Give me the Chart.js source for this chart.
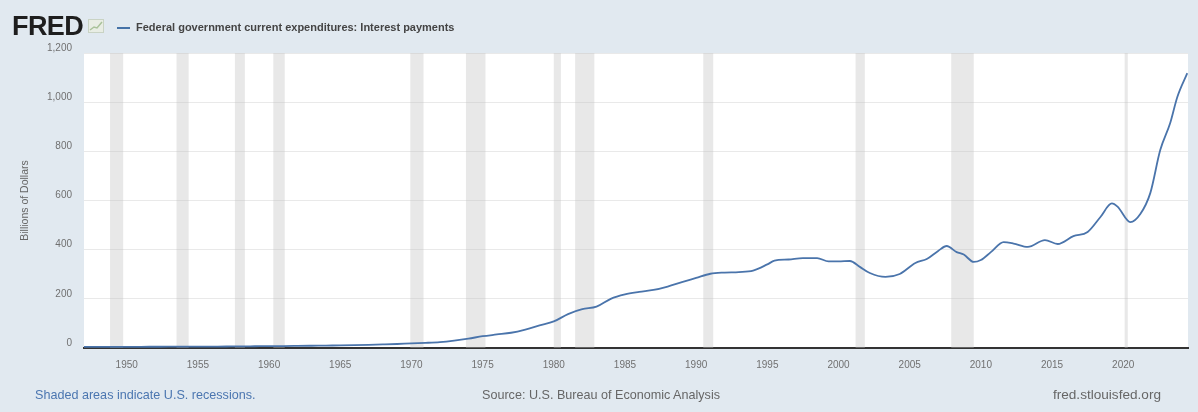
<!DOCTYPE html>
<html>
<head>
<meta charset="utf-8">
<script src="https://cdn.jsdelivr.net/npm/chart.js@4.4.1/dist/chart.umd.min.js"></script>
<style>
  body { margin: 0; background: #e1e9f0; font-family: "Liberation Sans", Arial, sans-serif; }
  #wrap { position: relative; width: 1198px; height: 412px; overflow: hidden; }
  #chart { position: absolute; left: 0; top: 0; }
  .logo { position: absolute; left: 12px; top: 11px; font-size: 27px; font-weight: bold; color: #1e1e1e; letter-spacing: -0.6px; }
  .icon { position: absolute; left: 88px; top: 19px; }
  .legline { position: absolute; left: 117px; top: 27px; width: 13px; height: 2px; background: #4572a7; }
  .legtext { position: absolute; left: 136px; top: 21px; font-size: 11px; font-weight: bold; color: #444; }
  .foot { position: absolute; top: 388px; font-size: 12.6px; color: #666; }
</style>
</head>
<body>
<div id="wrap">
  <canvas id="chart" width="1198" height="412"></canvas>
  <div class="logo">FRED</div>
  <svg class="icon" width="16" height="14">
    <rect x="0.5" y="0.5" width="15" height="13" fill="#e8ede4" stroke="#c9d3c4"/>
    <polyline points="2,11 6,8 9,9 14,3" fill="none" stroke="#a9c29a" stroke-width="1.5"/>
  </svg>
  <div class="legline"></div>
  <div class="legtext">Federal government current expenditures: Interest payments</div>
  <div class="foot" style="left:35px;color:#4b76b0;">Shaded areas indicate U.S. recessions.</div>
  <div class="foot" style="left:482px;">Source: U.S. Bureau of Economic Analysis</div>
  <div class="foot" style="right:37px;font-size:13.6px;top:387px;">fred.stlouisfed.org</div>
</div>
<script>
// observation dates (decimal years) and values, billions of dollars
const years = [
  1947, 1948, 1949, 1950, 1951, 1952, 1953, 1954, 1955, 1956, 1957, 1958, 1959,
  1960, 1961, 1962, 1963, 1964, 1965, 1966, 1967, 1968, 1969, 1970, 1971, 1972,
  1973, 1974, 1975, 1976, 1977, 1978, 1979, 1980, 1981, 1982, 1983, 1984, 1985,
  1986, 1987, 1988, 1989, 1990, 1991, 1992, 1993, 1994, 1995, 1995.5, 1996.5,
  1997.5, 1998.5, 1999.3, 2000, 2000.8, 2001.5, 2002.2, 2003.3, 2004.3, 2005.4,
  2006.2, 2007, 2007.6, 2008.3, 2008.8, 2009.5, 2010, 2010.7, 2011.6, 2012.3,
  2013.3, 2014.5, 2015.4, 2016.5, 2017.5, 2018.4, 2019.2, 2019.6, 2020.5, 2021.2,
  2021.9, 2022.6, 2023.3, 2023.8, 2024.5
];
const interest = [
  4.4, 4.5, 4.6, 4.8, 4.9, 5.1, 5.3, 5.3, 5.4, 5.8, 6.2, 6.4, 7.2,
  8.0, 8.0, 8.5, 9.2, 10.0, 10.6, 11.6, 12.8, 14.4, 16.3, 19, 21, 24,
  30, 38, 48, 55, 62, 75, 92, 108, 138, 158, 168, 200, 218,
  228, 236, 250, 268, 285, 302, 307, 309, 315, 340, 355, 360,
  366, 366, 352, 352, 354, 330, 305, 289, 301, 346,
  362, 395, 415, 390, 380, 350, 358, 390, 431, 425,
  411, 439, 423, 455, 472, 533, 588, 575, 512, 545,
  630, 805, 915, 1021, 1118
];
const recessionStart = [1948.83, 1953.5, 1957.6, 1960.3, 1969.92, 1973.83, 1980.0, 1981.5, 1990.5, 2001.2, 2007.92, 2020.1];
const recessionEnd   = [1949.75, 1954.35, 1958.3, 1961.1, 1970.85, 1975.2, 1980.5, 1982.85, 1991.2, 2001.85, 2009.5, 2020.32];
const xTicks = [1950, 1955, 1960, 1965, 1970, 1975, 1980, 1985, 1990, 1995, 2000, 2005, 2010, 2015, 2020];
const yTicks = [0, 200, 400, 600, 800, 1000, 1200];

// white plot background + recession bars
const plotBack = {
  id: "plotBack",
  beforeDraw(chart) {
    const { ctx, chartArea: a } = chart;
    ctx.save();
    ctx.fillStyle = "#ffffff";
    ctx.fillRect(a.left, a.top, a.right - a.left, a.bottom - a.top);
    ctx.restore();
  },
  beforeDatasetsDraw(chart) {
    const { ctx, chartArea: a, scales: { x } } = chart;
    ctx.save();
    ctx.fillStyle = "rgba(190,190,190,0.36)";
    recessionStart.forEach((s, i) => {
      const x1 = x.getPixelForValue(s);
      const x2 = x.getPixelForValue(recessionEnd[i]);
      ctx.fillRect(x1, a.top, Math.max(x2 - x1, 3), a.bottom - a.top);
    });
    ctx.restore();
  }
};

new Chart(document.getElementById("chart"), {
  type: "line",
  data: {
    datasets: [{
      label: "Federal government current expenditures: Interest payments",
      data: years.map((y, i) => ({ x: y, y: interest[i] })),
      borderColor: "#4a74ab",
      borderWidth: 1.8,
      pointRadius: 0,
      cubicInterpolationMode: "monotone",
      fill: false
    }]
  },
  options: {
    responsive: false,
    animation: false,
    devicePixelRatio: 1,
    layout: { padding: { top: 53, right: 10, bottom: 34, left: 0 } },
    plugins: { legend: { display: false }, tooltip: { enabled: false } },
    scales: {
      x: {
        type: "linear",
        min: 1947,
        max: 2024.55,
        afterBuildTicks: (axis) => { axis.ticks = xTicks.map(v => ({ value: v })); },
        afterFit: (axis) => { axis.height = 30; },
        ticks: {
          callback: (v) => String(v),
          padding: 11,
          maxRotation: 0,
          autoSkip: false,
          color: "#707070",
          font: { family: "Liberation Sans", size: 10 }
        },
        grid: { display: false, drawTicks: false },
        border: { color: "#333", width: 2 }
      },
      y: {
        min: 0,
        max: 1200,
        afterBuildTicks: (axis) => { axis.ticks = yTicks.map(v => ({ value: v })); },
        afterFit: (axis) => { axis.width = 84; },
        ticks: {
          padding: 12,
          labelOffset: -5,
          color: "#707070",
          font: { family: "Liberation Sans", size: 10 }
        },
        grid: { color: "#e9e9e9", drawTicks: false },
        border: { display: false },
        title: {
          display: true,
          text: "Billions of Dollars",
          color: "#666",
          padding: { top: 19, bottom: 0 },
          font: { family: "Liberation Sans", size: 10.5 }
        }
      }
    }
  },
  plugins: [plotBack]
});
</script>
</body>
</html>
